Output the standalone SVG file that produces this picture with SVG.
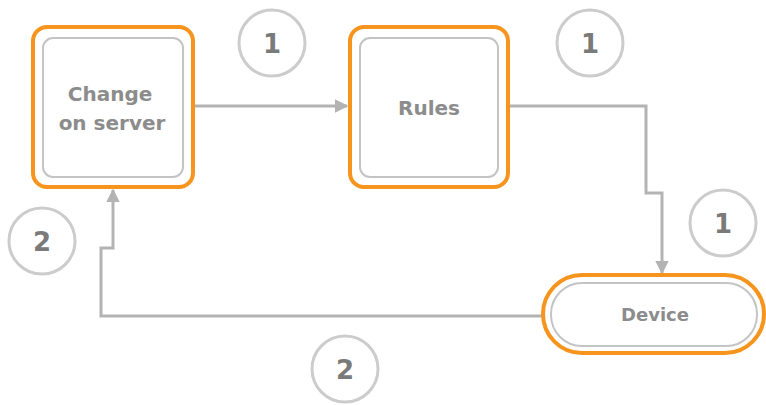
<svg xmlns="http://www.w3.org/2000/svg" width="766" height="405" viewBox="0 0 766 405">
  <defs>
    <style>
      .outer { fill: #ffffff; stroke: #f7941d; stroke-width: 4; }
      .inner { fill: #ffffff; stroke: #c4c4c4; stroke-width: 2; }
      .label { font-family: "DejaVu Sans", "Liberation Sans", sans-serif; font-weight: bold; fill: #8c8c8c; text-anchor: middle; }
      .conn { fill: none; stroke: #b3b3b3; stroke-width: 3; }
      .badge circle { fill: #ffffff; stroke: #cccccc; stroke-width: 3; }
      .badge text { font-family: "DejaVu Sans", "Liberation Sans", sans-serif; font-weight: bold; font-size: 26px; fill: #7a7a7a; text-anchor: middle; }
    </style>
    <marker id="arrow" viewBox="0 0 10 10" refX="9" refY="5" markerWidth="4.5" markerHeight="4.5" orient="auto" markerUnits="strokeWidth">
      <path d="M0,0 L10,5 L0,10 Z" fill="#b3b3b3"/>
    </marker>
  </defs>

  <g id="connectors">
    <path class="conn" d="M193,106 H347" marker-end="url(#arrow)"/>
    <path class="conn" d="M508,106 H646 V193 H662 V273" marker-end="url(#arrow)"/>
    <path class="conn" d="M543,316 H101 V248 H113 V190" marker-end="url(#arrow)"/>
  </g>

  <g id="node-change">
    <rect class="outer" x="33" y="27" width="160" height="160" rx="14"/>
    <rect class="inner" x="43" y="38" width="140" height="139" rx="10"/>
    <text class="label" x="110" y="101" font-size="20">Change</text>
    <text class="label" x="112" y="130" font-size="20">on server</text>
  </g>

  <g id="node-rules">
    <rect class="outer" x="350" y="27" width="158" height="160" rx="14"/>
    <rect class="inner" x="360" y="38" width="138" height="139" rx="10"/>
    <text class="label" x="429" y="115" font-size="20">Rules</text>
  </g>

  <g id="node-device">
    <rect class="outer" x="543" y="275" width="221" height="78" rx="39"/>
    <rect class="inner" x="551" y="283" width="206" height="63" rx="31"/>
    <text class="label" x="655" y="321" font-size="18">Device</text>
  </g>

  <g id="badge-1a" class="badge">
    <circle cx="272" cy="43" r="33"/>
    <text x="272" y="52.5">1</text>
  </g>
  <g id="badge-1b" class="badge">
    <circle cx="590" cy="43" r="33"/>
    <text x="590" y="52.5">1</text>
  </g>
  <g id="badge-1c" class="badge">
    <circle cx="723" cy="223" r="33"/>
    <text x="723" y="232.5">1</text>
  </g>
  <g id="badge-2a" class="badge">
    <circle cx="42" cy="241" r="33"/>
    <text x="42" y="250.5">2</text>
  </g>
  <g id="badge-2b" class="badge">
    <circle cx="345" cy="369" r="33"/>
    <text x="345" y="378.5">2</text>
  </g>
</svg>
